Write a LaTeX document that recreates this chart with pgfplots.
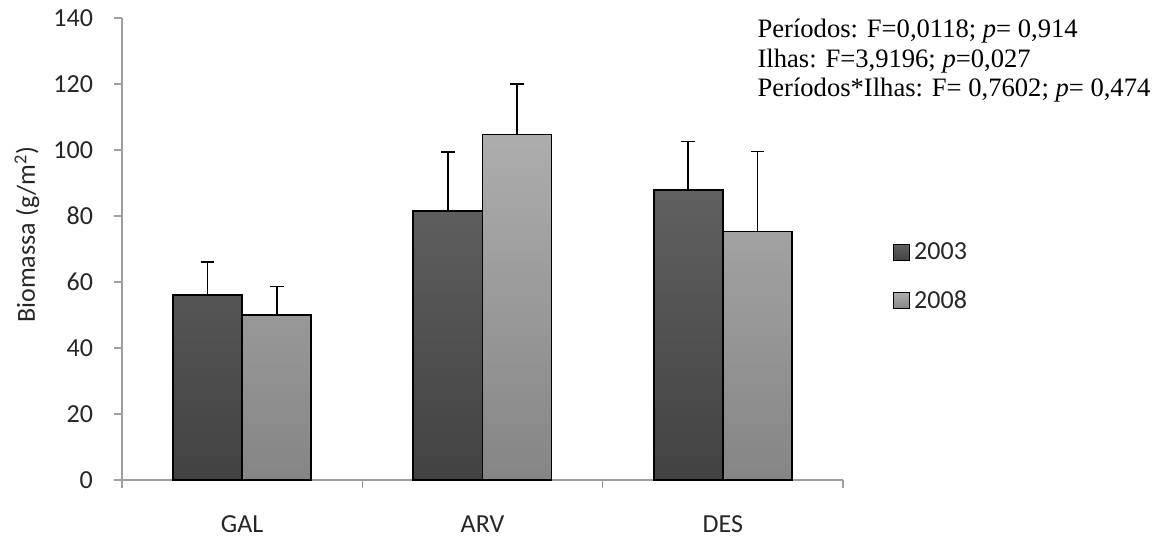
\documentclass[border=0pt]{standalone}
\usepackage{pgfplots}
\pgfplotsset{compat=1.18}
\usepackage{fontspec}
\setmainfont{Carlito}
\newfontfamily\tnr{Liberation Serif}
\definecolor{darktop}{HTML}{606060}
\definecolor{darkbot}{HTML}{424242}
\definecolor{lighttop}{HTML}{ADADAD}
\definecolor{lightbot}{HTML}{858585}
\begin{document}
\begin{tikzpicture}
\begin{axis}[
  scale only axis, width=360.5pt, height=231pt,
  xmin=0, xmax=3, ymin=0, ymax=140,
  clip=false,
  axis x line=bottom, axis y line=left,
  axis line style={-, draw=gray!75, line width=0.7pt},
  ybar=0pt, bar width=0.2875,
  xtick={0.5,1.5,2.5}, xticklabels={GAL,ARV,DES},
  major x tick style={draw=none},
  minor xtick={0,1,2,3},
  minor x tick style={draw=gray!75, line width=0.7pt},
  minor tick length=4pt,
  ytick={0,20,...,140},
  y tick style={draw=gray!75, line width=0.7pt},
  major tick length=4pt,
  tick align=outside,
  tick pos=left,
  /pgf/number format/assume math mode=true,
  tick label style={font=\fontsize{13}{15}\selectfont, text=black!85},
  xticklabel style={anchor=center, yshift=-18pt},
  yticklabel style={anchor=east, xshift=-7pt},
  ylabel={Biomassa (g/m\textsuperscript{2})},
  ylabel style={at={(rel axis cs:-0.1318,0.531)}, anchor=center, font=\fontsize{13}{15}\selectfont, text=black!85},
  legend style={at={(rel axis cs:1.06,0.44)}, anchor=west, draw=none, fill=none,
    font=\fontsize{13}{15}\selectfont, text=black!85, row sep=10pt,
    /tikz/every even column/.append style={column sep=1pt}},
  legend cell align=left,
  error bars/y dir=plus, error bars/y explicit,
  error bars/error bar style={black, line width=0.8pt},
  error bars/error mark options={rotate=90, mark size=3.4pt, black, line width=0.8pt},
]
\addplot[draw=black, line width=0.9pt, top color=darktop, bottom color=darkbot,
  legend image code/.code={\draw[draw=black, line width=0.8pt, top color=darktop, bottom color=darkbot] (0pt,-4pt) rectangle (8pt,4pt);}]
  coordinates {(0.5,56) +- (0,10) (1.5,81.5) +- (0,17.9) (2.5,88) +- (0,14.6)};
\addlegendentry{2003}
\addplot[draw=black, line width=0.9pt, top color=lighttop, bottom color=lightbot,
  legend image code/.code={\draw[draw=black, line width=0.8pt, top color=lighttop, bottom color=lightbot] (0pt,-4pt) rectangle (8pt,4pt);}]
  coordinates {(0.5,50) +- (0,8.6) (1.5,104.7) +- (0,15.3) (2.5,75.3) +- (0,24.3)};
\addlegendentry{2008}
\node[anchor=north west, align=left, inner sep=0pt, font=\tnr\fontsize{13.3}{14.75}\selectfont]
  at (rel axis cs:0.881,0.998)
  {Períodos: F=0,0118; \textit{p}= 0,914\\Ilhas: F=3,9196; \textit{p}=0,027\\Períodos*Ilhas: F= 0,7602; \textit{p}= 0,474};
\path (rel axis cs:-0.1692,-0.119) rectangle (rel axis cs:1.4411,1.039);
\end{axis}
\end{tikzpicture}
\end{document}
